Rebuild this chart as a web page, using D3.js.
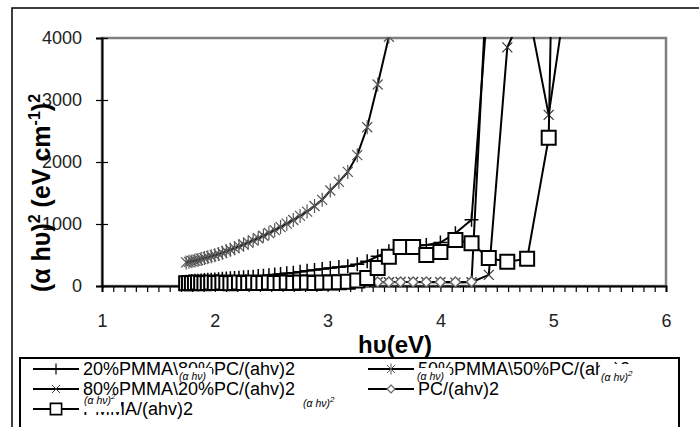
<!DOCTYPE html>
<html>
<head>
    <title>Tauc plot</title>
    <script src="https://d3js.org/d3.v7.min.js"></script>
    <style>
        body { margin: 0; background: #fff; }
        text { font-family: "Liberation Sans", Arial, sans-serif; }
    </style>
</head>
<body>
    <svg id="chart"></svg>

    <script>
        // photon energy (eV) for 710 nm down to 240 nm
        const energy = [1.746, 1.771, 1.797, 1.824, 1.851, 1.879, 1.908, 1.938, 1.968, 2.000,
            2.033, 2.067, 2.102, 2.138, 2.175, 2.214, 2.255, 2.296, 2.340, 2.385,
            2.431, 2.480, 2.531, 2.583, 2.638, 2.696, 2.756, 2.818, 2.884, 2.952,
            3.024, 3.100, 3.179, 3.263, 3.351, 3.444, 3.543, 3.647, 3.758, 3.875,
            4.000, 4.133, 4.276, 4.429, 4.593, 4.769, 4.960, 5.167];

        // (ahv)^2 values per sample
        const pmma20pc80 = [70, 75, 80, 85, 85, 90, 95, 100, 100, 105,
            110, 115, 120, 125, 130, 135, 140, 145, 150, 160,
            165, 175, 185, 195, 205, 215, 230, 245, 260, 275,
            290, 305, 320, 350, 400, 480, 560, 620, 640, 660,
            700, 850, 1070, 4800];
        const pmma50pc50 = [380, 390, 400, 410, 420, 435, 450, 465, 480, 495,
            515, 535, 560, 585, 610, 640, 670, 700, 735, 770,
            810, 855, 900, 950, 1005, 1065, 1130, 1200, 1290, 1390,
            1540, 1680, 1840, 2110, 2560, 3250, 4020, 5200];
        const pmma80pc20 = [20, 20, 25, 25, 25, 30, 30, 30, 30, 35,
            35, 35, 35, 40, 40, 40, 40, 45, 45, 45,
            45, 50, 50, 50, 50, 50, 55, 55, 55, 55,
            55, 55, 60, 60, 60, 60, 60, 65, 65, 60,
            60, 55, 60, 180, 3850, 4550, 2760, 5340];
        const pc = [25, 25, 25, 30, 30, 30, 30, 30, 30, 35,
            35, 35, 35, 35, 40, 40, 40, 40, 40, 40,
            45, 45, 45, 45, 45, 50, 50, 50, 50, 50,
            55, 55, 55, 60, 65, 65, 65, 65, 65, 65,
            65, 65, 70, 5500];
        const pmma = [45, 50, 45, 50, 55, 50, 45, 50, 55, 50,
            50, 55, 50, 45, 50, 55, 50, 50, 55, 50,
            50, 55, 50, 50, 55, 50, 55, 55, 50, 55,
            55, 60, 70, 90, 130, 290, 470, 630, 630, 500,
            550, 740, 690, 450, 390, 440, 2390, 22000];

        const legendNames = ['20%PMMA\\80%PC/(ahv)2', '50%PMMA\\50%PC/(ahv)2',
            '80%PMMA\\20%PC/(ahv)2', 'PC/(ahv)2', 'PMMA/(ahv)2'];
        const yTicks = [0, 1000, 2000, 3000, 4000];
        const xTicks = [1, 2, 3, 4, 5, 6];

        const width = 699, height = 427;
        const svg = d3.select('#chart').attr('width', width).attr('height', height);
        svg.append('rect').attr('width', width).attr('height', height).attr('fill', '#fff');

        const x = d3.scaleLinear().domain([1, 6]).range([102, 666]);
        const y = d3.scaleLinear().domain([0, 4000]).range([286, 38]);

        // outer chart frame
        svg.append('path').attr('d', 'M12,427V8H699').attr('fill', 'none')
            .attr('stroke', '#000').attr('stroke-width', 1.5);

        // plot area border
        svg.append('rect').attr('x', x(1)).attr('y', y(4000))
            .attr('width', x(6) - x(1)).attr('height', y(0) - y(4000))
            .attr('fill', 'none').attr('stroke', '#808080').attr('stroke-width', 2.5);

        // clip only what goes above the top of the value axis
        svg.append('clipPath').attr('id', 'plot').append('rect')
            .attr('x', x(1) - 10).attr('y', y(4000) - 1)
            .attr('width', x(6) - x(1) + 20).attr('height', y(0) - y(4000) + 20);

        // y axis
        const yAxis = svg.append('g').attr('transform', `translate(${x(1)},0)`)
            .call(d3.axisLeft(y).tickValues(yTicks).tickSize(6).tickPadding(14).tickFormat(d3.format('d')));
        yAxis.select('.domain').attr('stroke-width', 2);
        yAxis.selectAll('.tick line').attr('x2', -6).attr('x1', 6).attr('stroke-width', 1.2);
        yAxis.selectAll('.tick text').attr('font-size', 18).attr('fill', '#222')
            .attr('font-family', '"Liberation Sans", Arial, sans-serif');

        // x axis with minor ticks every 0.1
        const xAxis = svg.append('g').attr('transform', `translate(0,${y(0)})`)
            .call(d3.axisBottom(x).tickValues(d3.range(10, 61).map(d => d / 10))
                .tickSize(6).tickFormat(d => xTicks.includes(d) ? d : ''));
        xAxis.select('.domain').attr('stroke-width', 2);
        xAxis.selectAll('.tick line').attr('stroke-width', 1.2);
        xAxis.selectAll('.tick text').attr('font-size', 18).attr('fill', '#222').attr('dy', '1.75em')
            .attr('font-family', '"Liberation Sans", Arial, sans-serif');

        // axis titles
        svg.append('text').attr('x', 395).attr('y', 353).attr('text-anchor', 'middle')
            .attr('font-size', 24).attr('font-weight', 'bold').text('hυ(eV)');
        const yt = svg.append('text').attr('transform', 'translate(50,193) rotate(-90)')
            .attr('text-anchor', 'middle').attr('font-size', 25).attr('font-weight', 'bold');
        yt.append('tspan').text('(α hυ)');
        yt.append('tspan').attr('font-size', 16).attr('dy', -10).text('2');
        yt.append('tspan').attr('dy', 10).text(' (eV cm');
        yt.append('tspan').attr('font-size', 16).attr('dy', -10).text('-1');
        yt.append('tspan').attr('dy', 10).text(')');
        yt.append('tspan').attr('font-size', 16).attr('dy', -10).text('2');

        // marker shapes
        const markers = {
            plus: 'M-7,0H7M0,-7V7',
            star: 'M-5,-5L5,5M-5,5L5,-5M0,-7V7',
            cross: 'M-5,-5L5,5M-5,5L5,-5',
            diamond: 'M0,-5L5,0L0,5L-5,0Z',
            square: 'M-7,-7H7V7H-7Z'
        };

        const series = [
            { name: legendNames[0], values: pmma20pc80, marker: 'plus', mStroke: '#000', mFill: 'none', mw: 1.5 },
            { name: legendNames[1], values: pmma50pc50, marker: 'star', mStroke: '#555', mFill: 'none', mw: 1.2 },
            { name: legendNames[2], values: pmma80pc20, marker: 'cross', mStroke: '#333', mFill: 'none', mw: 1.2 },
            { name: legendNames[3], values: pc, marker: 'diamond', mStroke: '#666', mFill: '#fff', mw: 1.5 },
            { name: legendNames[4], values: pmma, marker: 'square', mStroke: '#000', mFill: '#fff', mw: 2 }
        ];

        const line = d3.line().x(d => x(d[0])).y(d => y(d[1]));
        const plot = svg.append('g').attr('clip-path', 'url(#plot)');

        series.forEach(s => {
            const pts = s.values.map((v, i) => [energy[i], v]);
            const g = plot.append('g');
            g.append('path').datum(pts).attr('d', line).attr('fill', 'none')
                .attr('stroke', '#000').attr('stroke-width', 2);
            g.selectAll('path.m').data(pts.filter(p => p[1] <= 4050)).enter()
                .append('path').attr('class', 'm')
                .attr('transform', d => `translate(${x(d[0])},${y(d[1])})`)
                .attr('d', markers[s.marker]).attr('fill', s.mFill)
                .attr('stroke', s.mStroke).attr('stroke-width', s.mw);
        });

        // legend
        const lg = svg.append('g');
        lg.append('rect').attr('x', 20).attr('y', 358).attr('width', 659).attr('height', 90)
            .attr('fill', '#fff').attr('stroke', '#000').attr('stroke-width', 2);
        const slots = [[33, 375], [368, 375], [33, 395], [368, 395], [33, 415]];
        const labels = [];
        series.forEach((s, i) => {
            const [lx, ly] = slots[i];
            const item = lg.append('g').attr('transform', `translate(${lx},${ly})`);
            item.append('line').attr('x1', 0).attr('x2', 46).attr('y1', -6).attr('y2', -6)
                .attr('stroke', '#000').attr('stroke-width', 2);
            item.append('path').attr('transform', 'translate(23,-6) scale(0.8)')
                .attr('d', markers[s.marker]).attr('fill', s.mFill)
                .attr('stroke', s.mStroke).attr('stroke-width', s.mw);
            labels.push(item.append('text').attr('x', 50).attr('font-size', 18).text(s.name));
        });

        // stray equation objects lying over the legend text
        // item: legend entry, from: char index where it starts, dx/dy: shift, top/bottom: white cover rows
        const eqs = [
            { item: 0, from: 8, dx: 0, base: 380, top: 368, bottom: 382, w: 34, sup: false },
            { item: 1, from: 0, dx: -2, base: 380, top: 368, bottom: 382, w: 34, sup: false },
            { item: 1, from: 16.5, dx: 0, base: 381, top: 364, bottom: 382, w: 44, sup: true },
            { item: 4, from: 0, dx: 0, base: 404, top: 396, bottom: 412, w: 38, sup: true },
            { item: null, x: 302, base: 407, top: 398, bottom: 410, w: 40, sup: true }
        ];
        eqs.forEach(e => {
            let ex = e.x;
            if (e.item !== null) {
                const node = labels[e.item].node();
                const k = Math.floor(e.from);
                let off = k > 0 ? node.getSubStringLength(0, k) : 0;
                if (e.from > k) off += node.getSubStringLength(k, 1) * (e.from - k);
                ex = slots[e.item][0] + 50 + off + e.dx;
            }
            lg.append('rect').attr('x', ex).attr('y', e.top).attr('width', e.w)
                .attr('height', e.bottom - e.top).attr('fill', '#fff');
            const t = lg.append('text').attr('x', ex + 1).attr('y', e.base)
                .attr('font-family', '"DejaVu Serif", serif').attr('font-style', 'italic')
                .attr('font-size', 10.5).text('(α hν)');
            if (e.sup) t.append('tspan').attr('dy', -5).attr('font-size', 8).text('2');
        });
    </script>
</body>
</html>
